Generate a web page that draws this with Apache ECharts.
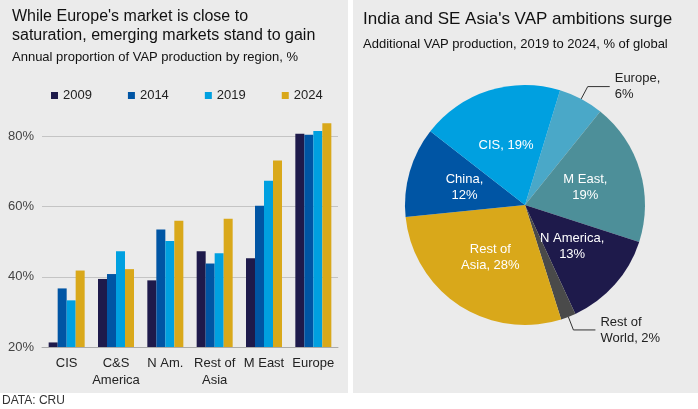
<!DOCTYPE html>
<html><head><meta charset="utf-8">
<script src="https://cdn.jsdelivr.net/npm/echarts@6/dist/echarts.min.js"></script>
<style>html,body{margin:0;background:#fff}#c{width:698px;height:409px}</style>
</head><body><div id="c"></div>
<script>
var regions = ['CIS', 'C&S\nAmerica', 'N Am.', 'Rest of\nAsia', 'M East', 'Europe'];
var years = ['2009', '2014', '2019', '2024'];
var v2009 = [21.3, 39.4, 39.0, 47.3, 45.3, 80.8];
var v2014 = [36.7, 40.8, 53.5, 43.8, 60.3, 80.5];
var v2019 = [33.3, 47.3, 50.2, 46.7, 67.4, 81.6];
var v2024 = [41.8, 42.2, 56.0, 56.6, 73.2, 83.8];
var yearColors = ['#1e1a4b', '#0055a4', '#00a0e0', '#d9a81a'];
var pieNames = ['Europe', 'M East', 'N America', 'Rest of World', 'Rest of Asia', 'China', 'CIS'];
var pieLabels = ['Europe,\n6%', 'M East,\n19%', 'N America,\n13%', 'Rest of\nWorld, 2%', 'Rest of\nAsia, 28%', 'China,\n12%', 'CIS, 19%'];
var pieValues = [6, 19, 13, 2, 28, 12, 19];
var pieColors = ['#4aa8c8', '#4d8f99', '#1e1a4b', '#4a4a4a', '#d9a81a', '#0055a4', '#00a0e0'];

var chart = echarts.init(document.getElementById('c'));
var font = 'Liberation Sans, Arial, sans-serif';
var barValues = [v2009, v2014, v2019, v2024];

var pieData = pieValues.map(function (v, i) {
  var outside = i === 0 || i === 3;
  return {
    value: v, name: pieNames[i],
    itemStyle: { color: pieColors[i] },
    label: {
      formatter: pieLabels[i],
      position: outside ? 'outside' : 'inside',
      color: outside ? '#222' : '#fff',
      align: 'center'
    },
    labelLine: { show: outside, lineStyle: { color: '#333' }, length: 14, length2: 22 }
  };
});

chart.setOption({
  textStyle: { fontFamily: font },
  graphic: [
    { type: 'rect', z: -10, shape: { x: 0, y: 0, width: 348, height: 393 }, style: { fill: '#ebebeb' } },
    { type: 'rect', z: -10, shape: { x: 353, y: 0, width: 345, height: 393 }, style: { fill: '#ebebeb' } },
    { type: 'text', left: 12, top: 7, style: { text: "While Europe's market is close to\nsaturation, emerging markets stand to gain", fontSize: 16, lineHeight: 19, fill: '#111', fontFamily: font } },
    { type: 'text', left: 12, top: 51, style: { text: 'Annual proportion of VAP production by region, %', fontSize: 13, fill: '#111', fontFamily: font } },
    { type: 'text', left: 363, top: 11, style: { text: "India and SE Asia's VAP ambitions surge", fontSize: 17, fill: '#111', fontFamily: font } },
    { type: 'text', left: 363, top: 38, style: { text: 'Additional VAP production, 2019 to 2024, % of global', fontSize: 13, fill: '#111', fontFamily: font } },
    { type: 'text', left: 2, top: 395, style: { text: 'DATA: CRU', fontSize: 12, fill: '#333', fontFamily: font } }
  ],
  legend: {
    left: 46, top: 84, itemWidth: 7, itemHeight: 7, itemGap: 36, icon: 'rect',
    textStyle: { fontSize: 13, color: '#222' },
    data: years
  },
  grid: { left: 42, right: 360, top: 112, bottom: 62 },
  xAxis: {
    type: 'category', data: regions,
    axisLine: { lineStyle: { color: '#aaa' } }, axisTick: { show: false },
    axisLabel: { fontSize: 13, color: '#222', margin: 8, interval: 0, lineHeight: 17 }
  },
  yAxis: {
    type: 'value', min: 20, max: 87, interval: 20,
    axisLabel: { fontSize: 13, color: '#444', formatter: '{value}%', showMaxLabel: false },
    splitLine: { lineStyle: { color: '#c4c4c4' }, showMaxLine: false }
  },
  series: years.map(function (y, i) {
    return {
      name: y, type: 'bar', data: barValues[i], barWidth: 9, barGap: '0%',
      itemStyle: { color: yearColors[i] }
    };
  }).concat([{
    type: 'pie', center: [525, 205], radius: 120, startAngle: 73, clockwise: true,
    data: pieData, silent: true,
    label: { fontSize: 13, lineHeight: 16, align: 'center' }
  }])
});
</script></body></html>
